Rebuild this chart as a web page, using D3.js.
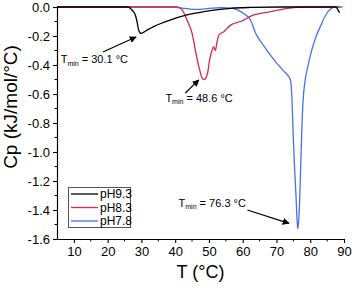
<!DOCTYPE html>
<html>
<head>
<meta charset="utf-8">
<script src="https://cdn.jsdelivr.net/npm/d3@7"></script>
<style>
body { margin: 0; background: #fff; }
svg { display: block; font-family: "Liberation Sans", Arial, sans-serif; }
</style>
</head>
<body>
<div id="chart"></div>
<script>
// temperature (°C) and Cp (kJ/mol/°C)
var ph93_t  = [5, 26.1, 27.2, 28.2, 28.7, 29.2, 29.9, 31.6, 33.6, 38.5, 43.5, 48.5, 53.4, 56.4, 62.3, 71.3, 87.6, 88.2, 88.7];
var ph93_cp = [0, 0, -0.02, -0.055, -0.10, -0.16, -0.182, -0.16, -0.135, -0.09, -0.055, -0.032, -0.016, -0.009, -0.003, 0, 0, -0.02, -0.04];

var ph83_t  = [5, 40.5, 42.0, 43.5, 45.0, 46.0, 47.0, 48.0, 48.6, 49.6, 50.2, 50.9, 51.4, 51.9, 52.4, 52.9, 54.4, 56.4, 59.4, 63.3, 68.3, 73.3, 78.3, 88.7];
var ph83_cp = [0, 0, -0.018, -0.09, -0.18, -0.30, -0.41, -0.49, -0.50, -0.455, -0.365, -0.30, -0.275, -0.30, -0.24, -0.195, -0.17, -0.125, -0.10, -0.055, -0.032, -0.009, 0, 0];

var ph78_t  = [5, 39.5, 43, 46.5, 50, 53.5, 57, 58.4, 60.3, 62.3, 63.8, 66.3, 69.3, 71.8, 73.3, 74.1, 74.6, 74.9, 75.3, 75.8, 76.1, 76.3, 76.6, 76.9, 77.2, 77.5, 77.9, 78.4, 79.2, 80.2, 81.7, 83.2, 84.6, 86.1, 87.1, 89.6];
var ph78_cp = [0, 0, -0.01, -0.017, -0.01, -0.005, -0.009, -0.02, -0.045, -0.09, -0.18, -0.27, -0.365, -0.434, -0.47, -0.50, -0.64, -0.85, -1.08, -1.31, -1.47, -1.53, -1.47, -1.31, -1.08, -0.85, -0.64, -0.52, -0.42, -0.32, -0.205, -0.124, -0.055, -0.012, 0, 0];

var series_names  = ['pH9.3', 'pH8.3', 'pH7.8'];
var series_colors = ['#000000', '#d42a4c', '#4a72e8'];

var x_ticks = [10, 20, 30, 40, 50, 60, 70, 80, 90];
var y_ticks = [0, -0.2, -0.4, -0.6, -0.8, -1.0, -1.2, -1.4, -1.6];

// annotations: label value, text anchor, arrow tail, arrow head (data units)
var notes = [
	{ value: '30.1', tx: 6.1,  ty: -0.388, x1: 18.6, y1: -0.31, x2: 28.4, y2: -0.207 },
	{ value: '48.6', tx: 37.1, ty: -0.653, x1: 43.0, y1: -0.593, x2: 47.0, y2: -0.503 },
	{ value: '76.3', tx: 41.0, ty: -1.377, x1: 61.4, y1: -1.40, x2: 73.7, y2: -1.492 }
];

var width = 352;
var height = 286;

var svg = d3.select('#chart')
	.append('svg')
	.attr('width', width)
	.attr('height', height);

var x_scale = d3.scaleLinear().domain([5, 90]).range([57, 344]);
var y_scale = d3.scaleLinear().domain([-1.6, 0]).range([239, 7]);

// axes
var x_axis = d3.axisBottom(x_scale)
	.tickValues(x_ticks)
	.tickSize(4)
	.tickSizeOuter(0)
	.tickFormat(function (d) { return d; });
var gx = svg.append('g')
	.attr('transform', 'translate(0,239)')
	.call(x_axis);
gx.selectAll('text').attr('font-size', 13).attr('y', 8).attr('fill', '#000');

var y_axis = d3.axisLeft(y_scale)
	.tickValues(y_ticks)
	.tickSize(4)
	.tickSizeOuter(0)
	.tickFormat(function (d) { return d.toFixed(1); });
var gy = svg.append('g')
	.attr('transform', 'translate(57,0)')
	.call(y_axis);
gy.selectAll('text').attr('font-size', 13).attr('x', -7).attr('fill', '#000');

svg.selectAll('.domain').attr('stroke', '#000').attr('stroke-width', 1.2);
svg.selectAll('.tick line').attr('stroke', '#000').attr('stroke-width', 1.1);

// minor ticks
var x_minor = d3.range(15, 90, 10);
svg.append('g').selectAll('line')
	.data(x_minor)
	.enter()
	.append('line')
	.attr('x1', function (d) { return x_scale(d); })
	.attr('x2', function (d) { return x_scale(d); })
	.attr('y1', 239)
	.attr('y2', 241.5)
	.attr('stroke', '#000');

var y_minor = d3.range(-1.5, 0, 0.2);
svg.append('g').selectAll('line')
	.data(y_minor)
	.enter()
	.append('line')
	.attr('x1', 54.5)
	.attr('x2', 57)
	.attr('y1', function (d) { return y_scale(d); })
	.attr('y2', function (d) { return y_scale(d); })
	.attr('stroke', '#000');

// axis titles
svg.append('text')
	.attr('x', x_scale(47.5))
	.attr('y', 278)
	.attr('text-anchor', 'middle')
	.attr('font-size', 18)
	.text('T (°C)');

svg.append('text')
	.attr('transform', 'translate(17,107) rotate(-90)')
	.attr('text-anchor', 'middle')
	.attr('font-size', 19)
	.text('Cp (kJ/mol/°C)');

// curves
var line = d3.line()
	.x(function (d) { return x_scale(d[0]); })
	.y(function (d) { return y_scale(d[1]); })
	.curve(d3.curveMonotoneX);

var series = [
	d3.zip(ph93_t, ph93_cp),
	d3.zip(ph83_t, ph83_cp),
	d3.zip(ph78_t, ph78_cp)
];

// draw blue first so the black and red sit on top like the original
[2, 1, 0].forEach(function (i) {
	svg.append('path')
		.datum(series[i])
		.attr('d', line)
		.attr('fill', 'none')
		.attr('stroke', series_colors[i])
		.attr('stroke-width', 1.3);
});

// annotations
svg.append('defs').append('marker')
	.attr('id', 'head')
	.attr('viewBox', '0 0 10 10')
	.attr('refX', 9)
	.attr('refY', 5)
	.attr('markerWidth', 7)
	.attr('markerHeight', 7)
	.attr('markerUnits', 'userSpaceOnUse')
	.attr('orient', 'auto')
	.append('path')
	.attr('d', 'M0,0 L10,5 L0,10 Z')
	.attr('fill', '#000');

notes.forEach(function (n) {
	svg.append('line')
		.attr('x1', x_scale(n.x1))
		.attr('y1', y_scale(n.y1))
		.attr('x2', x_scale(n.x2))
		.attr('y2', y_scale(n.y2))
		.attr('stroke', '#000')
		.attr('stroke-width', 1.2)
		.attr('marker-end', 'url(#head)');

	var t = svg.append('text')
		.attr('x', x_scale(n.tx))
		.attr('y', y_scale(n.ty))
		.attr('font-size', 11);
	t.append('tspan').text('T');
	t.append('tspan').attr('font-size', 7).attr('dy', 2.5).text('min');
	t.append('tspan').attr('dy', -2.5).text(' = ' + n.value + ' °C');
});

// legend
var legend = svg.append('g');
legend.append('rect')
	.attr('x', 68.5)
	.attr('y', 187.5)
	.attr('width', 62)
	.attr('height', 40)
	.attr('fill', '#fff')
	.attr('stroke', '#555')
	.attr('stroke-width', 1);

series_names.forEach(function (name, i) {
	var yy = 194 + i * 13.5;
	legend.append('line')
		.attr('x1', 71)
		.attr('x2', 98)
		.attr('y1', yy)
		.attr('y2', yy)
		.attr('stroke', series_colors[i])
		.attr('stroke-width', 1.3);
	legend.append('text')
		.attr('x', 100)
		.attr('y', yy + 4.3)
		.attr('font-size', 12)
		.text(name);
});
</script>
</body>
</html>
